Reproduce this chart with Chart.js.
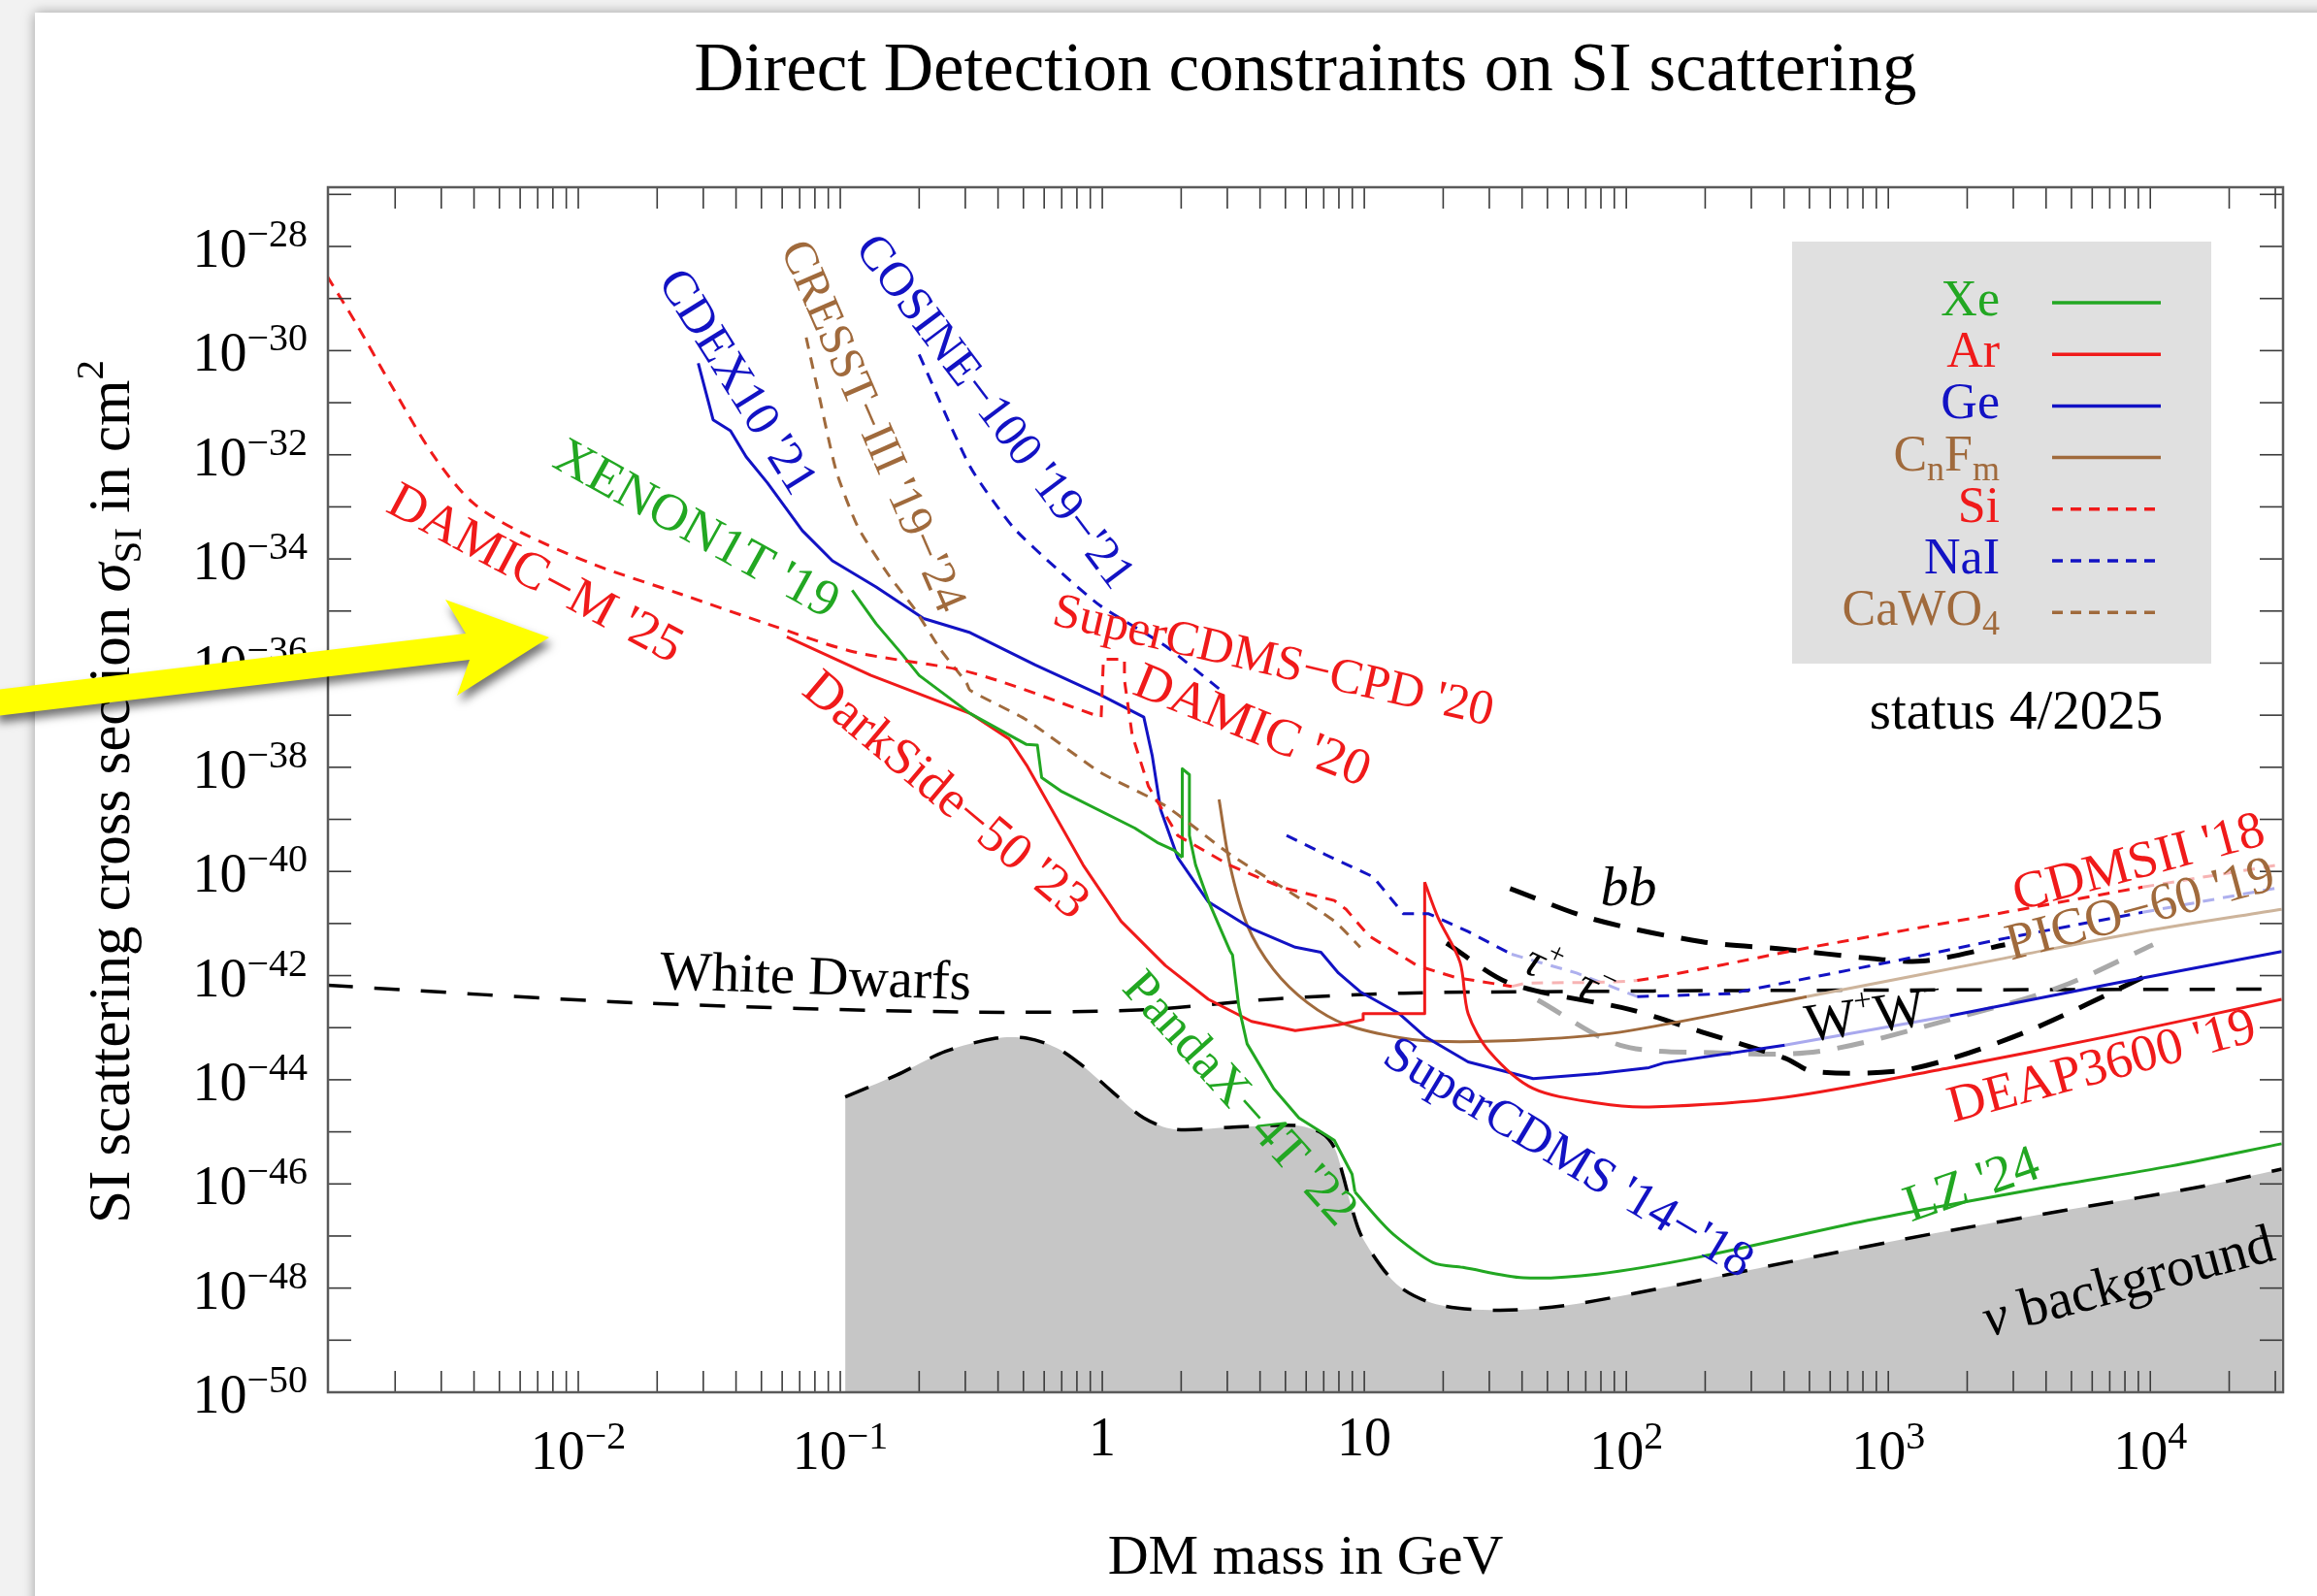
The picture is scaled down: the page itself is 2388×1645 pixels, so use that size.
<!DOCTYPE html>
<html>
<head>
<meta charset="utf-8">
<title>Direct Detection constraints on SI scattering</title>
<script src="https://cdn.jsdelivr.net/npm/chart.js@4.4.1/dist/chart.umd.min.js"></script>
<style>
  html, body { margin: 0; padding: 0; background: #f1f1f1; overflow: hidden; }
  canvas { display: block; }
</style>
</head>
<body>
<canvas id="canvas" width="2388" height="1645"></canvas>
<script>
// DM mass in GeV, SI cross section in cm^2
var damicM25 = [[1.1e-3, 2.7e-29], [1.42e-3, 3.3e-30], [1.91e-3, 2.4e-31], [2.82e-3, 9.2e-33], [3.96e-3, 1.2e-33],
  [6.0e-3, 3.3e-34], [1.15e-2, 7.8e-35], [2.47e-2, 2.1e-35], [5.25e-2, 5.7e-36], [0.113, 1.64e-36], [0.315, 6.6e-37], [0.987, 9.2e-38]];
var damic20 = [[0.99, 9.2e-38], [1.01, 1.19e-36], [1.215, 1.19e-36], [1.215, 4.7e-37], [1.30, 4.2e-38], [1.50, 4.3e-39],
  [1.94, 4.9e-40], [3.05, 1.33e-40], [4.81, 5.0e-41], [7.68, 2.77e-41], [8.52, 1.87e-41], [10.4, 5.8e-42], [15.9, 1.56e-42],
  [22.3, 9.2e-43], [36.5, 6.2e-43]];
var cdmsII18 = [[36.5, 6.2e-43], [41.6, 7.1e-43], [110, 8.1e-43], [490, 3.4e-42], [2790, 1.64e-41], [9350, 5.0e-41], [32100, 1.38e-40]];
var xenon1t19 = [[0.111, 2.5e-35], [0.137, 5.7e-36], [0.171, 1.54e-36], [0.2, 5.8e-37], [0.313, 1.08e-37], [0.514, 2.74e-38],
  [0.565, 2.67e-38], [0.587, 6.3e-39], [0.695, 3.5e-39], [1.33, 6.8e-40], [1.62, 3.6e-40], [1.88, 2.56e-40], [2.02, 1.85e-40]];
var pandaX4T22 = [[2.02, 1.85e-40], [2.02, 9.4e-39], [2.15, 7.2e-39], [2.15, 4.9e-40], [2.27, 1.33e-40], [2.55, 2.6e-41],
  [3.07, 3.0e-42], [3.14, 2.5e-42], [3.32, 2.5e-43], [3.57, 4.9e-44], [4.51, 6.8e-45], [5.63, 1.85e-45], [7.68, 6.9e-46],
  [8.98, 1.54e-46], [9.21, 7.0e-47]];
var lz24 = [[9.21, 7.0e-47], [11.6, 1.84e-47], [13.3, 9.5e-48], [18.3, 3.1e-48], [23.8, 2.5e-48], [40.5, 1.58e-48],
  [77.5, 1.86e-48], [190, 3.95e-48], [835, 2.0e-47], [3670, 8.0e-47], [11960, 2.2e-46], [31700, 5.9e-46]];
var darkSide50 = [[0.0625, 3.2e-36], [0.131, 5.8e-37], [0.313, 1.08e-37], [0.441, 3.5e-38], [0.514, 1.1e-38], [0.618, 2.15e-39],
  [0.845, 1.33e-40], [1.18, 1.1e-41], [1.74, 1.56e-42], [2.54, 3.5e-43], [3.71, 1.32e-43], [5.45, 8.8e-44], [7.97, 1.14e-43],
  [9.9, 1.43e-43], [9.9, 1.86e-43], [17.0, 1.86e-43], [17.0, 6.2e-41]];
var deap3600 = [[17.0, 6.2e-41], [19.1, 1.31e-41], [23.2, 1.8e-42], [24.9, 1.86e-43], [30.0, 3.5e-44], [44.1, 6.8e-45],
  [78.1, 3.56e-45], [122, 3.0e-45], [403, 4.6e-45], [1717, 1.71e-44], [7303, 7.2e-44], [31700, 3.5e-43]];
var cdex10 = [[0.0287, 5.7e-31], [0.0327, 4.7e-32], [0.0381, 2.9e-32], [0.0437, 9.2e-33], [0.0527, 2.9e-33], [0.0716, 3.5e-34],
  [0.0933, 9.2e-35], [0.137, 2.9e-35], [0.208, 7.2e-36]];
var superCDMS = [[0.208, 7.2e-36], [0.313, 3.85e-36], [0.555, 9.2e-37], [0.982, 2.47e-37], [1.44, 9.2e-38], [1.55, 1.69e-38],
  [1.67, 1.54e-39], [1.94, 1.85e-40], [2.54, 2.6e-41], [3.71, 8.0e-42], [5.45, 3.5e-42], [6.83, 2.8e-42], [7.97, 1.12e-42],
  [9.65, 4.9e-43], [13.6, 1.86e-43], [17.0, 6.8e-44], [24.9, 2.2e-44], [44.1, 1.05e-44], [78.1, 1.32e-44], [122, 1.71e-44],
  [139, 2.1e-44], [403, 4.6e-44], [1717, 1.69e-43], [7303, 7.1e-43], [31700, 2.9e-42]];
var pico60 = [[2.79, 2.4e-39], [3.07, 1.33e-40], [3.57, 9.4e-42], [4.5, 1.32e-42], [6.08, 3.0e-43], [8.52, 1.14e-43],
  [14.0, 6.3e-44], [20.6, 5.4e-44], [44.1, 5.9e-44], [94.8, 8.2e-44], [488, 3.95e-43], [2780, 2.16e-42], [9350, 7.0e-42], [31700, 1.87e-41]];
var cosine100 = [[0.2, 8.4e-31], [0.313, 5.9e-33], [0.458, 4.0e-34], [0.668, 6.6e-35], [0.982, 1.27e-35], [1.74, 2.14e-36], [2.94, 2.6e-37]];
var naIHigh = [[5.05, 4.9e-40], [7.11, 2.1e-40], [10.8, 7.9e-41], [14.1, 1.54e-41], [17.6, 1.54e-41], [24.9, 7.0e-42],
  [36.5, 2.57e-42], [64.6, 1.12e-42], [110, 3.95e-43], [249, 4.5e-43], [1055, 1.9e-42], [2790, 5.2e-42], [9350, 1.64e-41], [31700, 5.0e-41]];
var cresst3 = [[0.0741, 1.78e-30], [0.0833, 1.26e-31], [0.0966, 4.8e-33], [0.117, 4.0e-34], [0.153, 4.9e-35], [0.192, 1.1e-35],
  [0.242, 1.78e-36], [0.303, 4.2e-37], [0.313, 3.0e-37], [0.514, 8.1e-38], [0.982, 8.0e-39], [1.74, 1.82e-39], [3.07, 2.14e-40],
  [4.85, 5.0e-41], [7.68, 1.11e-41], [9.65, 3.5e-42]];
var whiteDwarfs = [[1.108e-3, 6.5e-43], [0.0168, 3.0e-43], [0.291, 2.0e-43], [1.44, 2.2e-43], [4.51, 3.56e-43], [14.1, 4.6e-43],
  [44.1, 4.9e-43], [364, 5.2e-43], [32100, 5.5e-43]];
var nuFloor = [[0.1044, 4.7e-45], [0.164, 1.23e-44], [0.252, 3.5e-44], [0.393, 6.3e-44], [0.514, 6.3e-44], [0.668, 4.1e-44],
  [0.845, 1.82e-44], [1.095, 5.8e-45], [1.44, 1.85e-45], [1.88, 1.12e-45], [3.07, 1.22e-45], [5.45, 1.33e-45], [6.83, 9.6e-46],
  [7.68, 5.0e-46], [8.27, 1.54e-46], [8.93, 3.65e-47], [9.81, 9.5e-48], [13.3, 1.18e-48], [18.8, 4.9e-49], [32.1, 3.75e-49],
  [58.0, 4.6e-49], [140, 1.03e-48], [459, 3.5e-48], [1497, 1.12e-47], [4884, 3.2e-47], [16020, 9.1e-47], [31700, 1.92e-46]];
var bbCurve = [[36.0, 4.7e-41], [74.6, 1.22e-41], [195, 4.45e-42], [403, 3.2e-42], [835, 2.16e-42], [1350, 1.9e-42], [2790, 3.9e-42]];
var tauTauCurve = [[20.6, 4.2e-42], [36.0, 7.1e-43], [104.5, 2.2e-43], [195, 8.2e-44], [403, 2.6e-44], [514, 1.45e-44],
  [1055, 1.45e-44], [1717, 2.5e-44], [3557, 9.4e-44], [9350, 9.2e-43]];
var wwCurve = [[45.9, 3.4e-43], [94.8, 4.6e-44], [216, 3.3e-44], [541, 3.5e-44], [1717, 1.43e-43], [4516, 6.0e-43], [10240, 3.9e-42]];

var xTickPowers = [-2, -1, 0, 1, 2, 3, 4];
var yTickPowers = [-28, -30, -32, -34, -36, -38, -40, -42, -44, -46, -48, -50];

var X_MIN = 1.108e-3, X_MAX = 3.21e4, Y_MIN = 1e-50, Y_MAX = 1.37e-27;
var GREEN = '#22a722', RED = '#f01a1a', BLUE = '#1212c4', BROWN = '#a06a3c';
var SHORT = [12, 9], LONG = [26, 22], THICK = [28, 18];
var FONT = '"Liberation Serif", "Times New Roman", serif';

// lighter colour where a curve runs under the washed-out band of the original
function fade(color, ranges) {
  return function(c) {
    var x0 = c.p0.parsed.x, x1 = c.p1.parsed.x;
    for (var i = 0; i < ranges.length; i++) {
      if (x0 >= ranges[i][0] && x1 <= ranges[i][1]) return color;
    }
    return undefined;
  };
}

function curve(arr, color, opts) {
  return Object.assign({
    data: arr.map(function(p) { return {x: p[0], y: p[1]}; }),
    borderColor: color, borderWidth: 3, pointRadius: 0, fill: false, tension: 0, order: 1,
    borderCapStyle: 'butt', borderJoinStyle: 'round'
  }, opts || {});
}

var datasets = [
  curve(damicM25, RED, {borderDash: SHORT, tension: 0.3}),
  curve(damic20, RED, {borderDash: SHORT}),
  curve(cdmsII18, RED, {borderDash: SHORT, tension: 0.2, segment: {borderColor: fade('#f7b4b4', [[36, 115], [9000, 40000]])}}),
  curve(cosine100, BLUE, {borderDash: SHORT, tension: 0.2}),
  curve(naIHigh, BLUE, {borderDash: SHORT, segment: {borderColor: fade('#aeb0ee', [[36, 115], [9000, 40000]])}}),
  curve(cresst3, BROWN, {borderDash: SHORT, tension: 0.2}),
  curve(xenon1t19, GREEN),
  curve(pandaX4T22, GREEN),
  curve(lz24, GREEN, {tension: 0.3}),
  curve(darkSide50, RED),
  curve(deap3600, RED, {tension: 0.3}),
  curve(cdex10, BLUE),
  curve(superCDMS, BLUE, {segment: {borderColor: fade('#a9a9ee', [[400, 1800]])}}),
  curve(pico60, BROWN, {tension: 0.3, segment: {borderColor: fade('#cdb49b', [[480, 40000]])}}),
  curve(bbCurve, '#000', {borderDash: THICK, borderWidth: 5, tension: 0.3, order: 2}),
  curve(tauTauCurve, '#000', {borderDash: THICK, borderWidth: 5, tension: 0.3, order: 2}),
  curve(wwCurve, '#a9a9a9', {borderDash: THICK, borderWidth: 5, tension: 0.3, order: 3}),
  curve(whiteDwarfs, '#000', {borderDash: LONG, borderWidth: 3.5, tension: 0.3, order: 4}),
  curve(nuFloor, '#000', {borderDash: LONG, borderWidth: 3.5, tension: 0.3, order: 10, fill: 'start', backgroundColor: '#c6c6c6'})
];

// text labels placed at (mass, sigma)
var notes = [
  {t: "CDEX10 '21", m: 0.041, s: 2.6e-31, a: 58, c: BLUE, size: 51},
  {t: "CRESST\u2212III '19\u2212'24", m: 0.135, s: 3.65e-32, a: 66.5, c: BROWN, size: 49},
  {t: "COSINE\u2212100 '19\u2212'21", m: 0.393, s: 7.0e-32, a: 53, c: BLUE, size: 50},
  {t: "XENON1T '19", m: 0.0285, s: 4.0e-34, a: 29, c: GREEN, size: 54},
  {t: "DAMIC\u2212M '25", m: 6.9e-3, s: 5.6e-35, a: 28, c: RED, size: 54},
  {t: "SuperCDMS\u2212CPD '20", m: 4.51, s: 1.19e-36, a: 13, c: RED, size: 51},
  {t: "DAMIC '20", m: 3.76, s: 6.7e-38, a: 22, c: RED, size: 54},
  {t: "DarkSide\u221250 '23", m: 0.256, s: 3.1e-39, a: 40, c: RED, size: 54},
  {t: "White Dwarfs", m: 0.0805, s: 9.9e-43, a: 2, c: '#000', size: 57},
  {t: "PandaX\u22124T '22", m: 3.39, s: 4.6e-45, a: 48, c: GREEN, size: 53},
  {t: "SuperCDMS '14\u2212'18", m: 60.6, s: 3.4e-46, a: 31, c: BLUE, size: 52},
  {t: "LZ '24", m: 2070, s: 1.04e-46, a: -19, c: GREEN, size: 54},
  {t: "DEAP3600 '19", m: 6500, s: 1.95e-44, a: -15, c: RED, size: 54},
  {t: "CDMSII '18", m: 8990, s: 1.62e-40, a: -15, c: RED, size: 54},
  {t: "PICO\u221260 '19", m: 9110, s: 2.0e-41, a: -15, c: BROWN, size: 54},
  {segs: [{t: '\u03bd', it: true}, {t: ' background'}], m: 8210, s: 1.39e-48, a: -15, c: '#000', size: 57},
  {segs: [{t: 'bb', it: true}], m: 102, s: 5.0e-41, a: 0, c: '#000', size: 58},
  {segs: [{t: '\u03c4', it: true}, {t: '+', s: 30, dy: -22}, {t: '  \u03c4', it: true}, {t: '\u2212', s: 30, dy: -22}], m: 60.6, s: 9.9e-43, a: 25, c: '#000', size: 50},
  {segs: [{t: 'W'}, {t: '+', s: 33, dy: -24}, {t: 'W'}, {t: '\u2212', s: 33, dy: -24}], m: 879, s: 1.8e-43, a: -8, c: '#000', size: 56}
];

var legendRows = [
  {segs: [{t: 'Xe'}], c: GREEN, dash: []},
  {segs: [{t: 'Ar'}], c: RED, dash: []},
  {segs: [{t: 'Ge'}], c: BLUE, dash: []},
  {segs: [{t: 'C'}, {t: 'n', s: 36, dy: 10}, {t: 'F'}, {t: 'm', s: 36, dy: 10}], c: BROWN, dash: []},
  {segs: [{t: 'Si'}], c: RED, dash: [11, 8]},
  {segs: [{t: 'NaI'}], c: BLUE, dash: [11, 8]},
  {segs: [{t: 'CaWO'}, {t: '4', s: 36, dy: 10}], c: BROWN, dash: [11, 8]}
];

function fnt(size, it) { return (it ? 'italic ' : '') + size + 'px ' + FONT; }
function drawRich(ctx, segs, x, y, align, size) {
  var w = 0;
  segs.forEach(function(g) { ctx.font = fnt(g.s || size, g.it); g.w = ctx.measureText(g.t).width; w += g.w; });
  var cx = align === 'center' ? x - w / 2 : (align === 'right' ? x - w : x);
  segs.forEach(function(g) { ctx.font = fnt(g.s || size, g.it); ctx.fillText(g.t, cx, y + (g.dy || 0)); cx += g.w; });
}
function seg(ctx, x1, y1, x2, y2) { ctx.beginPath(); ctx.moveTo(x1, y1); ctx.lineTo(x2, y2); ctx.stroke(); }
function sup(p) { return (p < 0 ? '\u2212' : '') + Math.abs(p); }

var decor = {
  id: 'decor',
  beforeDraw: function(chart) {
    var ctx = chart.ctx;
    ctx.save();
    ctx.fillStyle = '#f2f2f2';
    ctx.fillRect(0, 0, chart.width, chart.height);
    ctx.shadowColor = 'rgba(0,0,0,0.35)';
    ctx.shadowBlur = 12;
    ctx.fillStyle = '#ffffff';
    ctx.fillRect(36, 13, chart.width, chart.height + 20);
    ctx.restore();
  },
  afterDatasetsDraw: function(chart) {
    var ctx = chart.ctx, a = chart.chartArea, xs = chart.scales.x, ys = chart.scales.y;
    ctx.save();
    // ticks, pointing inwards on all four sides
    ctx.strokeStyle = '#3a3a3a';
    ctx.lineWidth = 1.6;
    for (var n = -3; n <= 4; n++) {
      for (var k = 1; k <= 9; k++) {
        var v = k * Math.pow(10, n);
        if (v < X_MIN || v > X_MAX) continue;
        var px = xs.getPixelForValue(v);
        seg(ctx, px, a.bottom, px, a.bottom - 22);
        seg(ctx, px, a.top, px, a.top + 22);
      }
    }
    for (var p = -50; p <= -27; p++) {
      var py = ys.getPixelForValue(Math.pow(10, p));
      seg(ctx, a.left, py, a.left + 24, py);
      seg(ctx, a.right, py, a.right - 24, py);
    }
    ctx.strokeStyle = '#5a5a5a';
    ctx.lineWidth = 2.5;
    ctx.strokeRect(a.left, a.top, a.right - a.left, a.bottom - a.top);

    // tick labels
    ctx.fillStyle = '#000';
    ctx.textBaseline = 'alphabetic';
    xTickPowers.forEach(function(p) {
      var px = xs.getPixelForValue(Math.pow(10, p));
      if (p === 0) drawRich(ctx, [{t: '1'}], px, a.bottom + 65, 'center', 56);
      else if (p === 1) drawRich(ctx, [{t: '10'}], px, a.bottom + 65, 'center', 56);
      else drawRich(ctx, [{t: '10'}, {t: sup(p), s: 40, dy: -21}], px, a.bottom + 79, 'center', 56);
    });
    yTickPowers.forEach(function(p) {
      var py = ys.getPixelForValue(Math.pow(10, p));
      drawRich(ctx, [{t: '10'}, {t: sup(p), s: 40, dy: -21}], a.left - 21, py + 21, 'right', 56);
    });

    // titles
    var cx = (a.left + a.right) / 2;
    drawRich(ctx, [{t: 'Direct Detection constraints on SI scattering'}], cx, 93, 'center', 71);
    drawRich(ctx, [{t: 'DM mass in GeV'}], cx, 1622, 'center', 58);
    ctx.save();
    ctx.translate(133, 816);
    ctx.rotate(-Math.PI / 2);
    drawRich(ctx, [{t: 'SI scattering cross section '}, {t: '\u03c3', it: true}, {t: 'SI', s: 41, dy: 12},
      {t: ' in cm'}, {t: '2', s: 41, dy: -27}], 0, 0, 'center', 61);
    ctx.restore();

    // curve labels
    notes.forEach(function(nt) {
      var segs = nt.segs || [{t: nt.t}];
      ctx.save();
      ctx.translate(xs.getPixelForValue(nt.m), ys.getPixelForValue(nt.s));
      ctx.rotate(nt.a * Math.PI / 180);
      ctx.fillStyle = nt.c;
      drawRich(ctx, segs, 0, nt.size * 0.33, 'center', nt.size);
      ctx.restore();
    });

    // legend box
    ctx.fillStyle = '#e0e0e0';
    ctx.fillRect(a.right - 506, a.top + 56, 432, 435);
    legendRows.forEach(function(r, i) {
      var y = a.top + 119 + i * 53.2;
      ctx.fillStyle = r.c;
      drawRich(ctx, r.segs, a.right - 292, y + 13, 'right', 52);
      ctx.strokeStyle = r.c;
      ctx.lineWidth = 3.5;
      ctx.setLineDash(r.dash);
      seg(ctx, a.right - 238, y, a.right - 126, y);
      ctx.setLineDash([]);
    });
    ctx.fillStyle = '#000';
    drawRich(ctx, [{t: 'status 4/2025'}], a.right - 275, a.top + 558, 'center', 57);
    ctx.restore();
  },
  afterDraw: function(chart) {
    // yellow pointer arrow laid over the figure
    var ctx = chart.ctx;
    ctx.save();
    ctx.shadowColor = 'rgba(0,0,0,0.55)';
    ctx.shadowBlur = 10;
    ctx.shadowOffsetX = 3;
    ctx.shadowOffsetY = 7;
    ctx.fillStyle = '#ffff00';
    ctx.beginPath();
    ctx.moveTo(-5, 711);
    ctx.lineTo(480, 653);
    ctx.lineTo(459, 618);
    ctx.lineTo(566, 657);
    ctx.lineTo(471, 717);
    ctx.lineTo(484, 680);
    ctx.lineTo(-5, 738);
    ctx.closePath();
    ctx.fill();
    ctx.restore();
  }
};

var ctx = document.getElementById('canvas');
var myChart = new Chart(ctx, {
  type: 'line',
  data: {datasets: datasets},
  plugins: [decor],
  options: {
    responsive: false,
    animation: false,
    devicePixelRatio: 1,
    layout: {padding: {left: 338, right: 35, top: 193, bottom: 210}},
    plugins: {legend: {display: false}, tooltip: {enabled: false}},
    scales: {
      x: {type: 'logarithmic', min: X_MIN, max: X_MAX, display: false},
      y: {type: 'logarithmic', min: Y_MIN, max: Y_MAX, display: false}
    }
  }
});
</script>
</body>
</html>
